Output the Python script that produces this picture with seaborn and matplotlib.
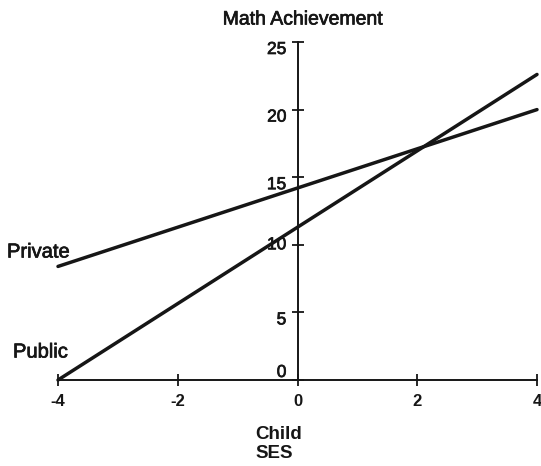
import matplotlib
matplotlib.use("Agg")
import matplotlib.pyplot as plt
import matplotlib.patheffects as pe
import seaborn as sns
import pandas as pd

# Child SES endpoints and predicted math achievement for each school sector
ses = [-4, 4]
private = [8.4, 20.0]
public = [0.0, 22.6]
sectors = ["Private", "Public"]

x_ticks = [-4, -2, 0, 2, 4]
y_ticks = [0, 5, 10, 15, 20, 25]

df = pd.DataFrame({
    "ses": ses * 2,
    "math": private + public,
    "sector": [sectors[0]] * 2 + [sectors[1]] * 2,
})

sns.set_style("white")
plt.rcParams["font.family"] = ["Liberation Sans", "DejaVu Sans"]

ink = "#161616"
heavy = [pe.withStroke(linewidth=0.5, foreground=ink)]

fig = plt.figure(figsize=(5.41, 4.66), dpi=100)
ax = fig.add_axes([58 / 541, 1 - 380 / 466, (537 - 58) / 541, (380 - 42) / 466])

sns.lineplot(data=df, x="ses", y="math", hue="sector", units="sector",
             estimator=None, palette=[ink, ink], linewidth=2.5,
             legend=False, ax=ax, clip_on=False)

ax.set_xlim(-4, 4)
ax.set_ylim(0, 25)

# Axes cross at the origin: y axis at SES = 0, x axis at achievement = 0
ax.spines["left"].set_position(("data", 0))
ax.spines["bottom"].set_position(("data", 0))
ax.spines["right"].set_visible(False)
ax.spines["top"].set_visible(False)
for s in ("left", "bottom"):
    ax.spines[s].set_color(ink)
    ax.spines[s].set_linewidth(1.4)

ax.set_xticks(x_ticks)
ax.set_yticks(y_ticks)
ax.set_xticklabels([str(t) for t in x_ticks], fontsize=12, fontweight="bold")
ax.set_yticklabels([str(t) for t in y_ticks], fontsize=12.5)
ax.tick_params(axis="both", left=True, bottom=True, direction="inout",
               length=8, width=1.3, color=ink, labelcolor=ink)
ax.tick_params(axis="x", pad=6)
ax.tick_params(axis="y", pad=4)
for t, lbl in zip(y_ticks, ax.get_yticklabels()):
    lbl.set_path_effects(heavy)
    if t == 0:
        lbl.set_verticalalignment("bottom")
    elif t == 10:
        lbl.set_verticalalignment("center")
    else:
        lbl.set_verticalalignment("top")

ax.set_xlabel("")
ax.set_ylabel("")

fig.text(303 / 541, 1 - 20 / 466, "Math Achievement", ha="center", va="center",
         fontsize=14, color=ink, path_effects=heavy)
fig.text(279 / 541, 1 - 444 / 466, "Child\nSES", ha="center", va="center",
         fontsize=13.5, fontweight="bold", color=ink, linespacing=1.15,
         multialignment="left")

fig.text(7 / 541, 1 - 252 / 466, "Private", ha="left", va="center",
         fontsize=14.5, color=ink, path_effects=heavy)
fig.text(13 / 541, 1 - 352 / 466, "Public", ha="left", va="center",
         fontsize=14.5, color=ink, path_effects=heavy)

fig.savefig("out.png", dpi=100)
